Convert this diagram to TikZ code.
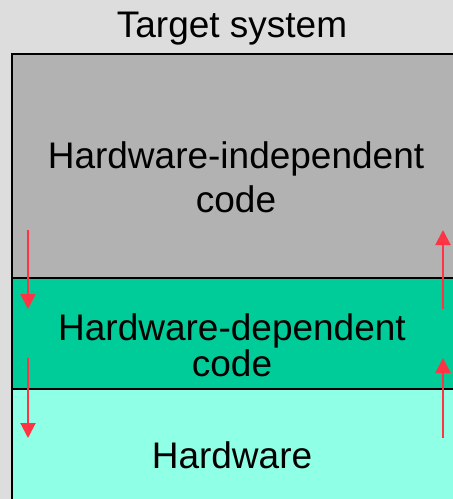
\documentclass[tikz,border=0pt]{standalone}
\usepackage{fontspec}
\setmainfont{Liberation Sans}
\usetikzlibrary{arrows.meta,positioning,calc}

\definecolor{bggray}{HTML}{DDDDDD}
\definecolor{codegray}{HTML}{B2B2B2}
\definecolor{codegreen}{HTML}{00CC99}
\definecolor{hwaqua}{HTML}{8FFFE6}
\definecolor{flowred}{HTML}{FF3344}

\begin{document}
\begin{tikzpicture}[x=1pt,y=-1pt,
		layer/.style={draw=black,line width=2pt,anchor=north west,inner sep=0pt,outer sep=0pt,minimum width=445pt},
		lbl/.style={font=\fontsize{37}{44}\selectfont,align=center,inner sep=0pt},
		flow/.style={draw=flowred,line width=2pt,-{Triangle[width=15pt,length=15pt]}}]
		\useasboundingbox (0,0) rectangle (453,499);
		\clip (0,0) rectangle (453,499);
		\fill[bggray] (0,0) rectangle (453,499);
		\node(title) [lbl,anchor=base] at (232,37) {Target system};
		% the three layers, stacked
		\node(indep) [layer,fill=codegray,minimum height=224pt] at (12,54) {};
		\node(dep) [layer,fill=codegreen,minimum height=111pt] at (indep.south west) {};
		\node(hw) [layer,fill=hwaqua,minimum height=120pt] at (dep.south west) {};
		% base anchor sits on the last line
		\node(indeptext) [lbl,anchor=base] at (236,212) {Hardware-independent\\code};
		\node(deptext) [lbl,anchor=base] at (232,376) {Hardware-dependent\\[-8pt]code};
		\node(hwtext) [lbl,anchor=base] at (232,468) {Hardware};
		% calls going down, returns coming up
		\coordinate (d1) at (28,230);
		\coordinate (d2) at (28,358);
		\coordinate (u1) at (443,309);
		\coordinate (u2) at (443,438);
		\draw[flow] (d1) -- (d1 |- u1);
		\draw[flow] (d2) -- (d2 |- u2);
		\draw[flow] (u1) -- (u1 |- d1);
		\draw[flow] (u2) -- (u2 |- d2);
	\end{tikzpicture}
\end{document}
